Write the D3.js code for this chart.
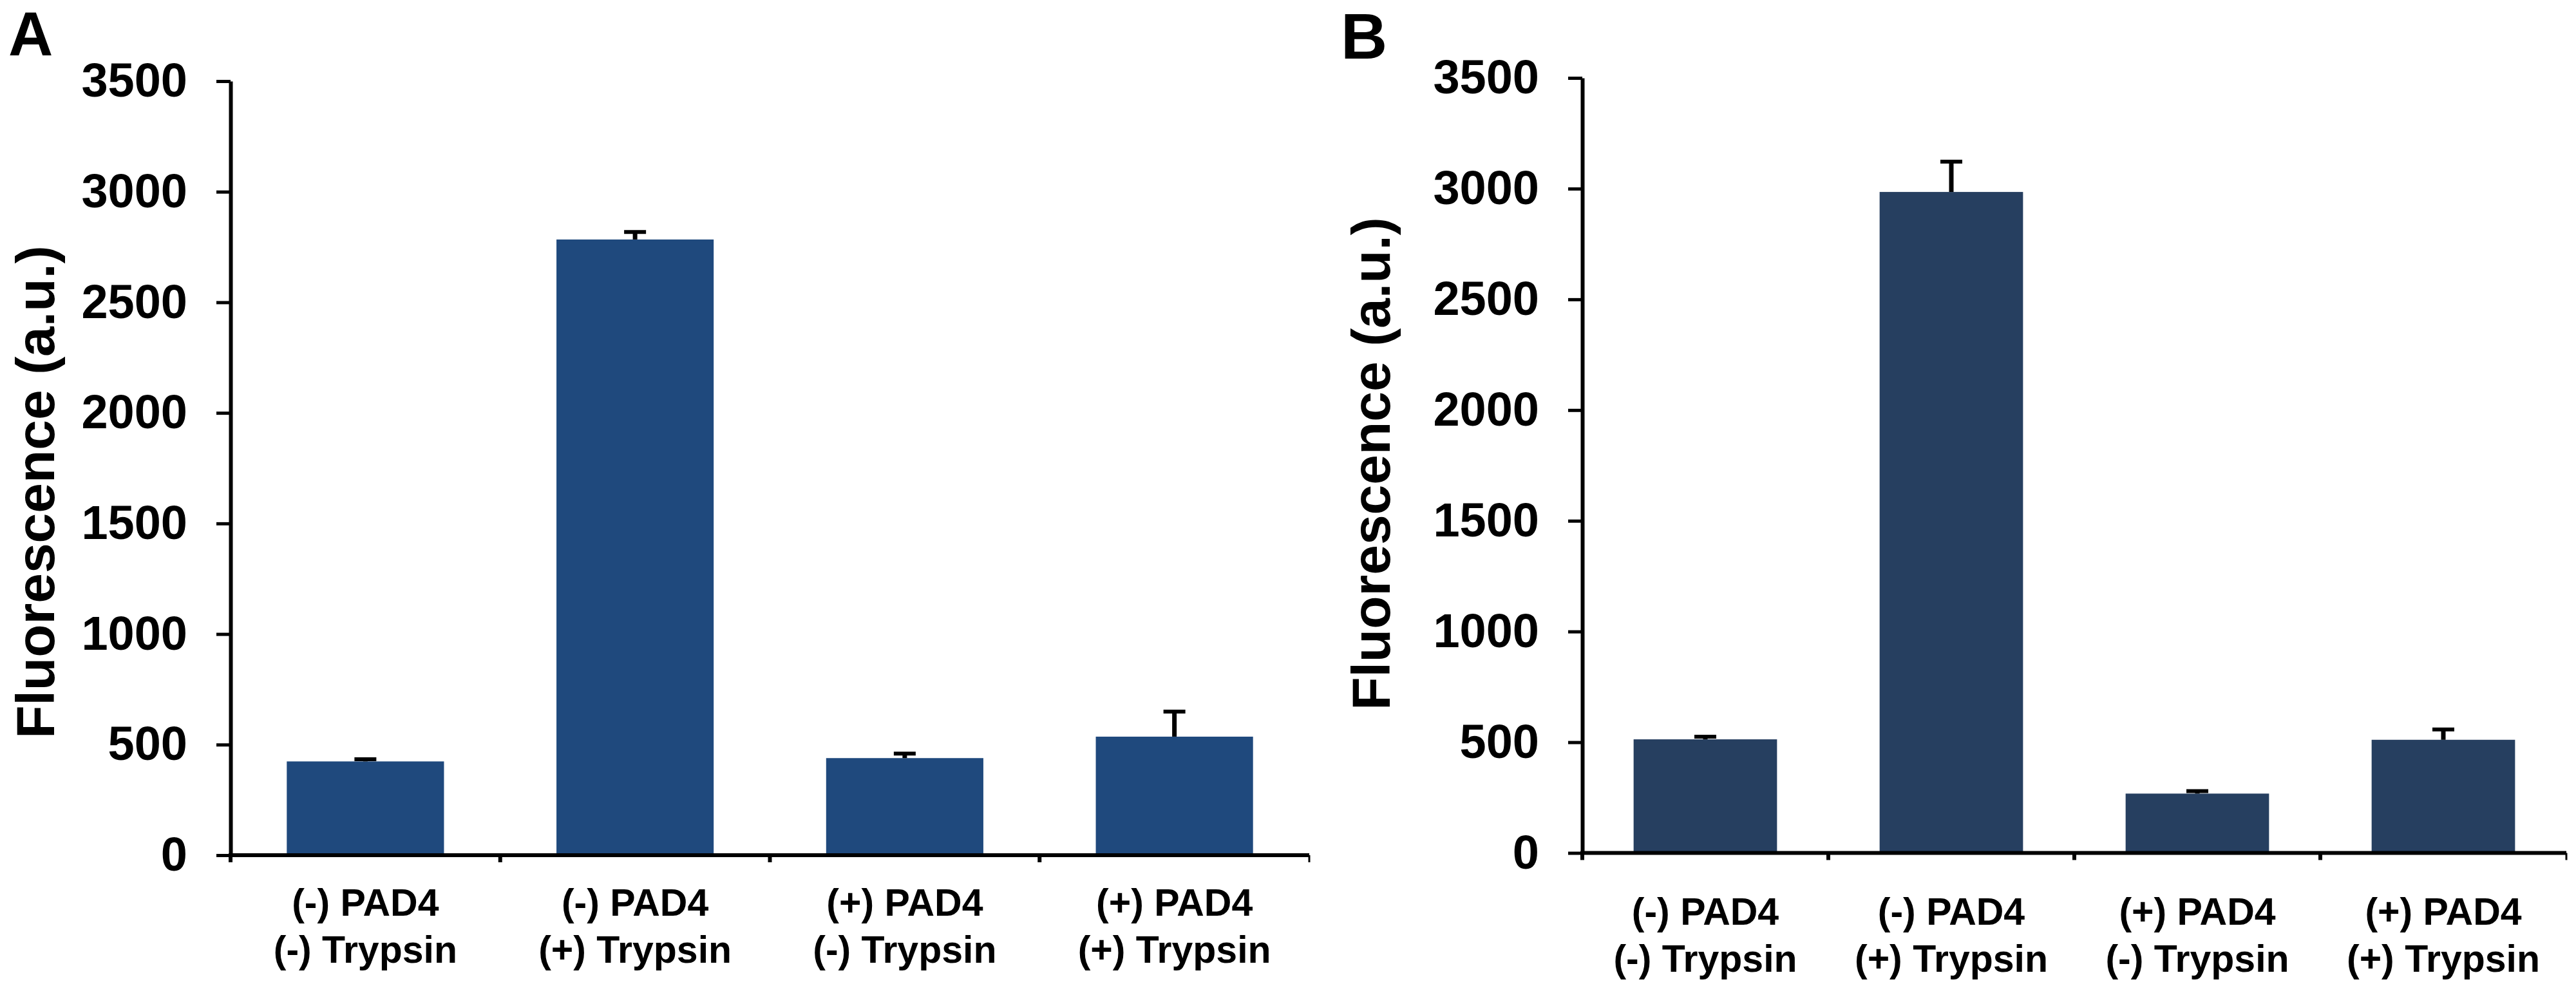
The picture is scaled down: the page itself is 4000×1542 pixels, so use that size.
<!DOCTYPE html>
<html>
<head>
<meta charset="utf-8">
<script src="https://cdn.jsdelivr.net/npm/d3@7"></script>
<style>
  html, body { margin: 0; padding: 0; background: #ffffff; }
  svg { display: block; }
  text { font-family: "Liberation Sans", Arial, Helvetica, sans-serif; font-weight: bold; fill: #000; }
</style>
</head>
<body>
<svg id="chart" width="4000" height="1542"></svg>
<script>
// ---- data ----
const categoryLine1 = ["(-) PAD4", "(-) PAD4", "(+) PAD4", "(+) PAD4"];
const categoryLine2 = ["(-) Trypsin", "(+) Trypsin", "(-) Trypsin", "(+) Trypsin"];
const valuesA = [424, 2784, 439, 536];
const errorsA = [10, 34, 20, 113];
const valuesB = [513, 2985, 268, 511];
const errorsB = [12, 137, 11, 47];
const yTicks = [0, 500, 1000, 1500, 2000, 2500, 3000, 3500];
const yTitle = "Fluorescence (a.u.)";
const panelLetters = ["A", "B"];

// ---- layout ----
const panels = [
  { letter: panelLetters[0], values: valuesA, errors: errorsA, color: "#1F497D",
    x0: 358, x1: 2033, yTop: 126, yZero: 1328,
    letterX: 13, letterY: 86, letterSize: 96, titleX: 84, titleY: 764,
    lab1Y: 1422, lab2Y: 1495 },
  { letter: panelLetters[1], values: valuesB, errors: errorsB, color: "#263F60",
    x0: 2457, x1: 3985, yTop: 121, yZero: 1324.5,
    letterX: 2082, letterY: 91, letterSize: 100, titleX: 2158, titleY: 720,
    lab1Y: 1436, lab2Y: 1509 }
];

const svg = d3.select("#chart");
svg.append("rect").attr("width", 4000).attr("height", 1542).attr("fill", "#fff");

panels.forEach(p => {
  const idx = d3.range(p.values.length);
  const x = d3.scaleBand().domain(idx).range([p.x0, p.x1]).paddingInner(0).paddingOuter(0);
  const y = d3.scaleLinear().domain([0, 3500]).range([p.yZero, p.yTop]);
  const barW = x.bandwidth() * 0.583;
  const g = svg.append("g");

  // bars
  g.selectAll("rect.bar").data(idx).join("rect")
    .attr("class", "bar")
    .attr("x", i => x(i) + (x.bandwidth() - barW) / 2)
    .attr("width", barW)
    .attr("y", i => y(p.values[i]))
    .attr("height", i => y(0) - y(p.values[i]))
    .attr("fill", p.color);

  // error bars (upper only)
  const capW = 34;
  g.selectAll("line.stem").data(idx).join("line")
    .attr("x1", i => x(i) + x.bandwidth() / 2)
    .attr("x2", i => x(i) + x.bandwidth() / 2)
    .attr("y1", i => y(p.values[i]))
    .attr("y2", i => y(p.values[i] + p.errors[i]))
    .attr("stroke", "#000").attr("stroke-width", 7);
  g.selectAll("line.cap").data(idx).join("line")
    .attr("x1", i => x(i) + x.bandwidth() / 2 - capW / 2)
    .attr("x2", i => x(i) + x.bandwidth() / 2 + capW / 2)
    .attr("y1", i => y(p.values[i] + p.errors[i]))
    .attr("y2", i => y(p.values[i] + p.errors[i]))
    .attr("stroke", "#000").attr("stroke-width", 6);

  // y axis
  const yAxis = d3.axisLeft(y).tickValues(yTicks).tickFormat(d3.format("d"))
    .tickSize(22).tickSizeOuter(0).tickPadding(45);
  const ya = svg.append("g").attr("transform", `translate(${p.x0},0)`).call(yAxis);
  ya.select(".domain").attr("stroke", "#000").attr("stroke-width", 6);
  ya.selectAll(".tick line").attr("stroke", "#000").attr("stroke-width", 5);
  ya.selectAll(".tick text")
    .attr("font-size", 74)
    .attr("font-family", "'Liberation Sans', Arial, sans-serif")
    .attr("font-weight", "bold")
    .attr("fill", "#000");

  // x axis line and boundary ticks
  svg.append("line")
    .attr("x1", p.x0 - 3).attr("x2", p.x1)
    .attr("y1", y(0)).attr("y2", y(0))
    .attr("stroke", "#000").attr("stroke-width", 6);
  const bounds = idx.map(i => x(i)).concat([p.x1]);
  svg.append("g").selectAll("line").data(bounds).join("line")
    .attr("x1", d => d).attr("x2", d => d)
    .attr("y1", y(0)).attr("y2", y(0) + 11)
    .attr("stroke", "#000").attr("stroke-width", (d, i) => i === bounds.length - 1 ? 3 : 6);

  // category labels
  const lab = svg.append("g");
  lab.selectAll("text.l1").data(idx).join("text")
    .attr("x", i => x(i) + x.bandwidth() / 2).attr("y", p.lab1Y)
    .attr("text-anchor", "middle").attr("font-size", 59)
    .text(i => categoryLine1[i]);
  lab.selectAll("text.l2").data(idx).join("text")
    .attr("x", i => x(i) + x.bandwidth() / 2).attr("y", p.lab2Y)
    .attr("text-anchor", "middle").attr("font-size", 59)
    .text(i => categoryLine2[i]);

  // y title
  svg.append("text")
    .attr("transform", `translate(${p.titleX},${p.titleY}) rotate(-90)`)
    .attr("text-anchor", "middle").attr("font-size", 84)
    .text(yTitle);

  // panel letter
  svg.append("text")
    .attr("x", p.letterX).attr("y", p.letterY)
    .attr("font-size", p.letterSize)
    .text(p.letter);
});
</script>
</body>
</html>
